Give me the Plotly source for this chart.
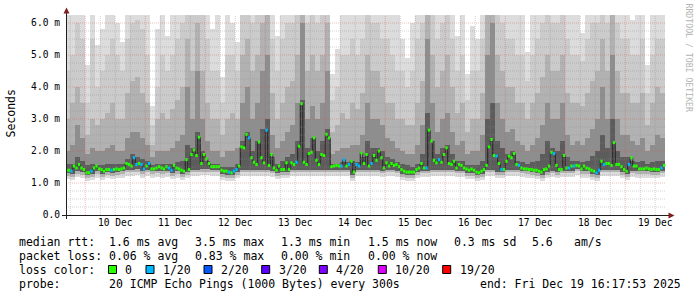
import numpy as np
import pandas as pd
import plotly.graph_objects as go

# ---------------- data ----------------
BIN_START = "2025-12-09 16:00"
RANGE_START = "2025-12-09 16:17:53"
RANGE_END = "2025-12-19 16:17:53"

# hourly median RTT in ms
median_ms = [
    1.40, 1.40, 1.37, 1.53, 1.47, 1.58, 1.47, 1.42, 1.32, 1.32, 1.37, 1.47, 1.53, 1.44, 1.42, 1.37, 1.42, 1.42, 1.40, 1.42,
    1.44, 1.42, 1.44, 1.47, 1.61, 1.58, 1.53, 1.79, 1.58, 1.61, 1.58, 1.44, 1.53, 1.61, 1.44, 1.44, 1.47, 1.51, 1.47, 1.44,
    1.51, 1.47, 1.40, 1.55, 1.47, 1.44, 1.40, 1.37, 1.73, 1.42, 1.89, 2.03, 1.86, 2.43, 1.61, 1.89, 1.76, 1.61, 1.51, 1.51,
    1.51, 1.51, 1.40, 1.37, 1.37, 1.34, 1.32, 1.37, 1.42, 1.53, 2.13, 2.10, 2.52, 2.41, 1.79, 1.65, 1.58, 2.28, 1.79, 1.63,
    2.65, 1.55, 1.89, 1.47, 1.40, 1.53, 1.42, 1.42, 1.63, 1.42, 1.63, 1.58, 1.65, 2.15, 3.48, 1.65, 1.58, 1.92, 1.96, 2.41,
    1.71, 1.58, 1.89, 1.86, 2.52, 2.41, 1.51, 1.53, 1.55, 1.53, 1.53, 1.73, 1.53, 1.58, 1.68, 1.34, 1.58, 1.53, 1.94, 1.61,
    1.89, 1.53, 1.61, 1.86, 1.71, 2.00, 1.79, 1.47, 1.63, 1.53, 1.61, 1.55, 1.58, 1.51, 1.42, 1.37, 1.34, 1.34, 1.34, 1.34,
    1.42, 1.47, 1.61, 1.47, 1.47, 2.65, 2.31, 1.71, 1.63, 1.73, 1.65, 1.89, 2.10, 1.61, 1.58, 1.68, 1.47, 1.58, 1.55, 1.47,
    1.44, 1.40, 1.44, 1.40, 1.34, 1.32, 1.37, 1.42, 1.55, 2.13, 2.36, 1.86, 1.84, 1.61, 1.42, 1.42, 1.68, 1.84, 1.79, 1.92,
    1.58, 1.55, 1.47, 1.44, 1.44, 1.42, 1.42, 1.40, 1.40, 1.37, 1.34, 1.42, 1.44, 1.53, 1.96, 1.92, 1.55, 1.42, 1.42, 1.86,
    1.47, 1.47, 1.53, 1.53, 1.55, 1.53, 1.44, 1.53, 1.47, 1.44, 1.40, 1.37, 1.32, 1.40, 1.68, 1.58, 1.61, 1.61, 1.55, 2.26,
    1.58, 1.58, 1.51, 1.42, 1.37, 1.58, 1.79, 1.53, 1.53, 1.44, 1.44, 1.44, 1.47, 1.44, 1.42, 1.44, 1.42, 1.42, 1.47, 1.55,
]

# hourly lost pings (out of 20)
loss_20 = [
    0, 0, 1, 0, 0, 0, 0, 0, 0, 0, 1, 0, 0, 0, 0, 0, 0, 0, 1, 0,
    0, 0, 0, 0, 0, 0, 0, 1, 1, 0, 1, 1, 0, 1, 0, 0, 0, 0, 0, 0,
    0, 1, 1, 0, 0, 0, 0, 0, 0, 0, 0, 0, 0, 0, 0, 0, 0, 0, 0, 0,
    0, 0, 0, 0, 0, 1, 0, 1, 1, 0, 0, 0, 0, 1, 0, 0, 0, 0, 0, 0,
    1, 0, 0, 0, 0, 0, 0, 0, 0, 0, 0, 0, 1, 0, 0, 0, 0, 0, 0, 0,
    0, 0, 0, 0, 0, 0, 0, 0, 0, 0, 1, 1, 0, 1, 0, 0, 1, 1, 0, 0,
    0, 0, 1, 0, 0, 0, 0, 0, 0, 0, 0, 0, 0, 0, 0, 0, 0, 0, 0, 0,
    0, 0, 0, 0, 1, 0, 0, 0, 0, 1, 0, 0, 0, 0, 0, 0, 0, 0, 0, 0,
    0, 0, 0, 0, 0, 0, 0, 0, 0, 0, 0, 0, 1, 0, 1, 0, 0, 0, 0, 0,
    0, 1, 0, 0, 0, 0, 0, 0, 0, 0, 0, 0, 0, 0, 0, 1, 0, 0, 0, 0,
    0, 1, 0, 1, 0, 0, 0, 0, 0, 0, 0, 0, 1, 1, 0, 1, 0, 0, 0, 0,
    0, 0, 0, 0, 0, 1, 0, 0, 0, 0, 0, 0, 0, 0, 0, 0, 0, 0, 1, 0,
]

# smoke (2-hour bins): upper edges of the nested ping bands, ms (outer -> inner)
smoke_top1 = [
    7, 7, 7, 7, 4.7, 7, 5.3, 5.8, 7, 7, 6.0, 5.4, 7, 7, 7, 7, 7, 3.4, 5.8, 7,
    5.6, 7, 7, 7, 7, 7, 7, 7, 7, 5.8, 7, 4.3, 7, 6.0, 5.4, 7, 7, 7, 7, 7,
    7, 7, 5.6, 7, 7, 7, 7, 7, 7, 7, 7, 7, 7, 4.4, 5.2, 7, 7, 7, 7, 7,
    7, 7, 7, 7, 7, 7, 6.5, 5.5, 4.9, 6.0, 7, 7, 7, 7, 7, 7, 7, 7, 5.6, 7,
    4.4, 5.9, 5.5, 7, 7, 7, 7, 7, 7, 7, 7, 7, 5.1, 7, 7, 7, 7, 7, 7, 7,
    7, 7, 7, 5.7, 7, 7, 7, 7, 7, 7, 7, 7, 7, 6.1, 7, 7, 4.7, 7, 7, 7,
]
smoke_top2 = [
    4.5, 5.0, 6.0, 5.5, 3.5, 5.5, 4.0, 4.5, 5.0, 5.5, 5.0, 4.5, 5.5, 6.0, 6.1, 5.8, 5.0, 2.8, 4.0, 5.0,
    4.5, 5.0, 5.5, 6.0, 7, 6.5, 7, 6.5, 5.5, 4.5, 4.5, 3.5, 5.0, 5.0, 4.5, 6.5, 7, 6.0, 6.5, 7,
    7, 5.5, 4.5, 5.5, 6.0, 6.0, 6.5, 7, 6.0, 6.5, 6.0, 6.5, 7, 3.6, 4.0, 5.0, 5.0, 5.5, 5.0, 5.5,
    6.5, 6.0, 6.0, 5.5, 5.5, 5.0, 4.5, 4.5, 4.0, 4.5, 5.5, 6.0, 7, 6.5, 5.5, 6.0, 6.5, 5.5, 4.5, 5.0,
    3.6, 4.5, 4.5, 5.5, 7, 7, 6.5, 6.0, 5.5, 5.5, 5.0, 5.0, 4.2, 5.0, 5.5, 6.0, 6.5, 6.0, 6.0, 6.5,
    5.5, 5.0, 5.0, 4.8, 5.5, 6.0, 6.0, 7, 6.0, 7, 6.0, 5.5, 5.5, 5.0, 5.0, 5.5, 3.8, 5.0, 5.5, 5.5,
]
smoke_top3 = [
    3.0, 3.5, 4.0, 3.5, 2.5, 3.0, 2.8, 3.0, 3.2, 3.5, 3.0, 3.0, 3.8, 4.2, 4.3, 3.8, 3.5, 2.2, 3.0, 3.2,
    3.0, 3.3, 3.6, 4.0, 5.5, 4.5, 6.0, 4.5, 3.5, 3.0, 3.0, 2.5, 3.0, 3.2, 3.0, 5.0, 5.5, 4.5, 5.0, 6.0,
    6.5, 3.8, 3.0, 3.5, 4.0, 4.2, 5.0, 7, 4.5, 5.0, 4.5, 5.0, 6.0, 2.6, 2.8, 3.2, 3.0, 3.5, 3.3, 3.8,
    5.0, 4.5, 4.5, 4.0, 3.5, 3.5, 3.0, 3.0, 2.8, 2.8, 3.5, 4.2, 7, 5.0, 4.0, 4.5, 5.0, 4.0, 3.2, 3.5,
    2.6, 3.0, 3.0, 3.8, 6.5, 7, 5.0, 4.5, 4.0, 4.0, 3.5, 3.5, 3.0, 3.5, 3.8, 4.3, 5.0, 4.5, 4.5, 5.0,
    3.8, 3.5, 3.5, 3.4, 3.8, 4.2, 4.5, 5.5, 4.5, 6.5, 4.5, 3.8, 3.8, 3.5, 3.5, 3.8, 2.8, 3.5, 4.0, 3.8,
]
smoke_top4 = [
    2.0, 2.2, 2.8, 2.4, 1.9, 2.1, 2.0, 2.0, 2.1, 2.2, 2.0, 2.0, 2.4, 2.6, 2.6, 2.4, 2.2, 1.8, 2.0, 2.0,
    2.0, 2.1, 2.3, 2.5, 4.0, 3.0, 4.5, 3.0, 2.3, 2.0, 2.0, 1.8, 2.0, 2.0, 2.1, 3.5, 4.0, 3.0, 3.5, 4.5,
    5.0, 2.5, 2.1, 2.3, 2.6, 2.8, 3.5, 6.0, 3.0, 3.4, 3.0, 3.5, 4.5, 1.9, 2.0, 2.1, 2.1, 2.2, 2.2, 2.5,
    3.5, 3.0, 3.0, 2.8, 2.4, 2.3, 2.1, 2.0, 1.9, 1.9, 2.2, 2.8, 5.5, 3.5, 2.6, 3.0, 3.2, 2.6, 2.2, 2.3,
    1.9, 2.0, 2.0, 2.5, 5.0, 6.0, 3.5, 3.0, 2.6, 2.7, 2.3, 2.2, 2.0, 2.2, 2.4, 2.8, 3.5, 3.0, 3.0, 3.5,
    2.5, 2.2, 2.3, 2.2, 2.4, 2.7, 3.0, 4.0, 3.0, 5.0, 3.0, 2.5, 2.5, 2.3, 2.2, 2.4, 2.0, 2.2, 2.5, 2.4,
]
smoke_top5 = [
    1.6, 1.6, 1.8, 1.7, 1.55, 1.6, 1.55, 1.55, 1.6, 1.6, 1.6, 1.6, 1.75, 1.9, 1.8, 1.75, 1.7, 1.55, 1.6, 1.6,
    1.6, 1.6, 1.65, 1.7, 2.2, 2.1, 2.6, 2.0, 1.7, 1.6, 1.6, 1.5, 1.5, 1.5, 1.6, 2.3, 2.6, 2.0, 2.3, 2.7,
    3.0, 1.8, 1.6, 1.7, 1.8, 1.9, 2.3, 3.6, 2.1, 2.4, 2.0, 2.3, 2.7, 1.6, 1.6, 1.65, 1.65, 1.7, 1.65, 1.8,
    2.3, 2.1, 2.1, 2.0, 1.8, 1.75, 1.65, 1.6, 1.55, 1.5, 1.6, 1.9, 3.2, 2.3, 1.9, 2.1, 2.2, 1.9, 1.7, 1.7,
    1.55, 1.55, 1.55, 1.7, 3.0, 3.5, 2.3, 2.1, 1.9, 2.0, 1.7, 1.65, 1.6, 1.65, 1.7, 1.9, 2.3, 2.1, 2.0, 2.3,
    1.8, 1.7, 1.7, 1.65, 1.7, 1.85, 2.0, 2.5, 2.1, 3.0, 2.0, 1.8, 1.8, 1.7, 1.65, 1.7, 1.6, 1.65, 1.7, 1.7,
]
# lower edges of the smoke bands, ms
smoke_lo1 = [
    1.13, 1.10, 1.18, 1.15, 1.05, 1.10, 1.17, 1.10, 1.15, 1.13, 1.15, 1.17, 1.23, 1.23, 1.25, 1.17, 1.23, 1.17, 1.20, 1.17,
    1.20, 1.13, 1.17, 1.10, 1.15, 1.23, 1.23, 1.25, 1.25, 1.23, 1.23, 1.10, 1.07, 1.05, 1.15, 1.23, 1.23, 1.23, 1.23, 1.23,
    1.23, 1.20, 1.13, 1.15, 1.15, 1.23, 1.23, 1.23, 1.23, 1.23, 1.23, 1.23, 1.23, 1.23, 1.23, 1.23, 1.23, 1.07, 1.23, 1.23,
    1.23, 1.23, 1.23, 1.20, 1.23, 1.23, 1.20, 1.10, 1.07, 1.07, 1.15, 1.20, 1.20, 1.23, 1.23, 1.23, 1.23, 1.23, 1.20, 1.20,
    1.13, 1.13, 1.05, 1.10, 1.23, 1.23, 1.15, 1.15, 1.23, 1.23, 1.23, 1.20, 1.17, 1.15, 1.13, 1.07, 1.15, 1.20, 1.15, 1.20,
    1.20, 1.20, 1.26, 1.17, 1.17, 1.10, 1.05, 1.23, 1.23, 1.23, 1.23, 1.15, 1.10, 1.20, 1.17, 1.17, 1.17, 1.15, 1.15, 1.20,
]
smoke_lo2 = [
    1.23, 1.20, 1.28, 1.25, 1.15, 1.20, 1.27, 1.20, 1.25, 1.23, 1.25, 1.27, 1.33, 1.33, 1.35, 1.27, 1.33, 1.27, 1.30, 1.27,
    1.30, 1.23, 1.27, 1.20, 1.25, 1.33, 1.33, 1.35, 1.35, 1.33, 1.33, 1.20, 1.17, 1.15, 1.25, 1.33, 1.33, 1.33, 1.33, 1.33,
    1.33, 1.30, 1.23, 1.25, 1.25, 1.33, 1.33, 1.33, 1.33, 1.33, 1.33, 1.33, 1.33, 1.33, 1.33, 1.33, 1.33, 1.17, 1.33, 1.33,
    1.33, 1.33, 1.33, 1.30, 1.33, 1.33, 1.30, 1.20, 1.17, 1.17, 1.25, 1.30, 1.30, 1.33, 1.33, 1.33, 1.33, 1.33, 1.30, 1.30,
    1.23, 1.23, 1.15, 1.20, 1.33, 1.33, 1.25, 1.25, 1.33, 1.33, 1.33, 1.30, 1.27, 1.25, 1.23, 1.17, 1.25, 1.30, 1.25, 1.30,
    1.30, 1.30, 1.36, 1.27, 1.27, 1.20, 1.15, 1.33, 1.33, 1.33, 1.33, 1.25, 1.20, 1.30, 1.27, 1.27, 1.27, 1.25, 1.25, 1.30,
]
smoke_lo3 = [
    1.32, 1.29, 1.37, 1.34, 1.24, 1.29, 1.36, 1.29, 1.34, 1.32, 1.34, 1.36, 1.42, 1.42, 1.44, 1.36, 1.42, 1.36, 1.39, 1.36,
    1.39, 1.32, 1.36, 1.29, 1.34, 1.42, 1.42, 1.44, 1.44, 1.42, 1.42, 1.29, 1.26, 1.24, 1.34, 1.42, 1.42, 1.42, 1.42, 1.42,
    1.42, 1.39, 1.32, 1.34, 1.34, 1.42, 1.42, 1.42, 1.42, 1.42, 1.42, 1.42, 1.42, 1.42, 1.42, 1.42, 1.42, 1.26, 1.42, 1.42,
    1.42, 1.42, 1.42, 1.39, 1.42, 1.42, 1.39, 1.29, 1.26, 1.26, 1.34, 1.39, 1.39, 1.42, 1.42, 1.42, 1.42, 1.42, 1.39, 1.39,
    1.32, 1.32, 1.24, 1.29, 1.42, 1.42, 1.34, 1.34, 1.42, 1.42, 1.42, 1.39, 1.36, 1.34, 1.32, 1.26, 1.34, 1.39, 1.34, 1.39,
    1.39, 1.39, 1.45, 1.36, 1.36, 1.29, 1.24, 1.42, 1.42, 1.42, 1.42, 1.34, 1.29, 1.39, 1.36, 1.36, 1.36, 1.34, 1.34, 1.39,
]

y_tick_vals = [0, 1, 2, 3, 4, 5, 6]
y_tick_text = ["0.0", "1.0 m", "2.0 m", "3.0 m", "4.0 m", "5.0 m", "6.0 m"]

loss_levels = [0, 1, 2, 3, 4, 10, 19]
loss_labels = ["0", "1/20", "2/20", "3/20", "4/20", "10/20", "19/20"]
loss_colors = ["#26ff00", "#00b8ff", "#0059ff", "#5e00ff", "#7e00ff", "#dd00ff", "#ff0000"]

rtt_stats = ["1.6 ms avg", "3.5 ms max", "1.3 ms min", "1.5 ms now", "0.3 ms sd", "5.6", "am/s"]
loss_stats = ["0.06 % avg", "0.83 % max", "0.00 % min", "0.00 % now"]
probe_text = "20 ICMP Echo Pings (1000 Bytes) every 300s"
end_text = "end: Fri Dec 19 16:17:53 2025"

# ---------------- styles / layout constants ----------------
W, H = 697, 297
L, R, T, B = 66, 31, 15, 82
PW, PH = W - L - R, H - T - B
MONO = "DejaVu Sans Mono"
band_colors = ["#dcdcdc", "#cbcbcb", "#b2b2b2", "#8e8e8e", "#5c5c5c"]


def px(x):
    return (x - L) / PW


def py(y):
    return (H - B - y) / PH


hour = pd.Timedelta(hours=1)
hour_starts = pd.date_range(BIN_START, periods=len(median_ms), freq="h")
smoke_centers = pd.date_range(pd.Timestamp(BIN_START) + hour, periods=len(smoke_top1), freq="2h")

fig = go.Figure()

tops = [smoke_top1, smoke_top2, smoke_top3, smoke_top4, smoke_top5]
los = [smoke_lo1, smoke_lo2, smoke_lo2, smoke_lo3, smoke_lo3]
for top, lo, col in zip(tops, los, band_colors):
    top = np.array(top, dtype=float)
    lo = np.array(lo, dtype=float)
    fig.add_trace(go.Bar(
        x=smoke_centers, y=top - lo, base=lo, width=2 * 3600 * 1000,
        marker=dict(color=col, line=dict(width=0)), hoverinfo="skip", showlegend=False,
    ))

# thin dark median step line
edges = list(hour_starts) + [hour_starts[-1] + hour]
fig.add_trace(go.Scatter(
    x=edges, y=list(median_ms) + [median_ms[-1]], mode="lines",
    line=dict(shape="hv", color="#202020", width=1), hoverinfo="skip", showlegend=False,
))

# loss-coloured median segments
for lvl, col in zip(loss_levels, loss_colors):
    xs, ys = [], []
    for t, m, ls in zip(hour_starts, median_ms, loss_20):
        if ls == lvl:
            xs += [t, t + hour, None]
            ys += [m, m, None]
    if xs:
        fig.add_trace(go.Scatter(x=xs, y=ys, mode="lines", line=dict(color=col, width=3),
                                 hoverinfo="skip", showlegend=False))

shapes = []
MGRID = "rgba(222,79,79,0.38)"
GRID = "rgba(143,143,143,0.4)"
DASH = "1px,1px"
# horizontal grid
for k in range(1, 25):
    v = k * 0.25
    major = (k % 4 == 0)
    shapes.append(dict(type="line", xref="paper", yref="y", x0=0, x1=1, y0=v, y1=v,
                       line=dict(color=MGRID if major else GRID, width=1, dash=DASH), layer="above"))
# vertical grid
t = pd.Timestamp("2025-12-09 18:00")
while t < pd.Timestamp(RANGE_END):
    major = (t.hour == 0)
    shapes.append(dict(type="line", xref="x", yref="paper", x0=t, x1=t, y0=0, y1=1,
                       line=dict(color=MGRID if major else GRID, width=1, dash=DASH), layer="above"))
    t += pd.Timedelta(hours=6)

AX = "#1f1f1f"
ARROW = "#7f1f1f"
shapes.append(dict(type="line", xref="paper", yref="paper", x0=px(66.5), x1=px(66.5), y0=py(219), y1=py(12),
                   line=dict(color=AX, width=1), layer="above"))
shapes.append(dict(type="line", xref="paper", yref="paper", x0=px(62), x1=px(670), y0=py(215.5), y1=py(215.5),
                   line=dict(color=AX, width=1), layer="above"))
shapes.append(dict(type="path", xref="paper", yref="paper",
                   path=f"M {px(63.5)},{py(13.5)} L {px(69.5)},{py(13.5)} L {px(66.5)},{py(7.5)} Z",
                   fillcolor=ARROW, line=dict(color=ARROW, width=0), layer="above"))
shapes.append(dict(type="path", xref="paper", yref="paper",
                   path=f"M {px(668.5)},{py(212.5)} L {px(668.5)},{py(218.5)} L {px(674.5)},{py(215.5)} Z",
                   fillcolor=ARROW, line=dict(color=ARROW, width=0), layer="above"))

annotations = []


def txt(s, x, y, size=11.5, color="black", angle=0, xanchor="left"):
    annotations.append(dict(text=s, x=px(x), y=py(y), xref="paper", yref="paper", showarrow=False,
                            xanchor=xanchor, yanchor="middle", textangle=angle,
                            font=dict(family=MONO, size=size, color=color)))


rows = [241.5, 255.5, 269.5, 283.5]
col_x = [107.3, 193.3, 279.3, 366.0, 451.7, 530.0, 571.7]
txt("median rtt:", 16.7, rows[0])
for s, x in zip(rtt_stats, col_x):
    txt(s, x, rows[0])
txt("packet loss:", 16.7, rows[1])
for s, x in zip(loss_stats, col_x):
    txt(s, x, rows[1])
txt("loss color:", 16.7, rows[2])
box_x = [108.5, 146.0, 204.0, 261.7, 319.3, 378.3, 442.7]
for lab, col, bx in zip(loss_labels, loss_colors, box_x):
    shapes.append(dict(type="rect", xref="paper", yref="paper", x0=px(bx), x1=px(bx + 8),
                       y0=py(273.5), y1=py(265.5), fillcolor=col, line=dict(color="black", width=1)))
    txt(lab, bx + 14.8, rows[2])
txt("probe:", 16.7, rows[3])
txt(probe_text, 107.3, rows[3])
txt(end_text, 478.3, rows[3])
txt("Seconds", 10.5, 114, size=11.5, angle=-90, xanchor="center")
txt("RRDTOOL / TOBI OETIKER", 688.5, 58, size=8.2, color="#b4b4b4", angle=90, xanchor="center")

fig.update_layout(
    width=W, height=H, margin=dict(l=L, r=R, t=T, b=B, pad=0),
    paper_bgcolor="white", plot_bgcolor="white", barmode="overlay", bargap=0,
    showlegend=False, shapes=shapes, annotations=annotations,
    font=dict(family=MONO, size=9.6, color="black"),
)
fig.update_xaxes(type="date", range=[RANGE_START, RANGE_END], showgrid=False, zeroline=False,
                 showline=False, tick0="2025-12-10", dtick=86400000, tickformat="%d %b",
                 ticklabelmode="period", ticks="", tickfont=dict(family=MONO, size=9.6, color="black"),
                 fixedrange=True)
fig.update_yaxes(range=[0, 6.25], tickvals=y_tick_vals, ticktext=y_tick_text, showgrid=False,
                 zeroline=False, showline=False, ticks="", ticklabelstandoff=5,
                 tickfont=dict(family=MONO, size=9.6, color="black"), fixedrange=True)

fig.write_html("out.html")
